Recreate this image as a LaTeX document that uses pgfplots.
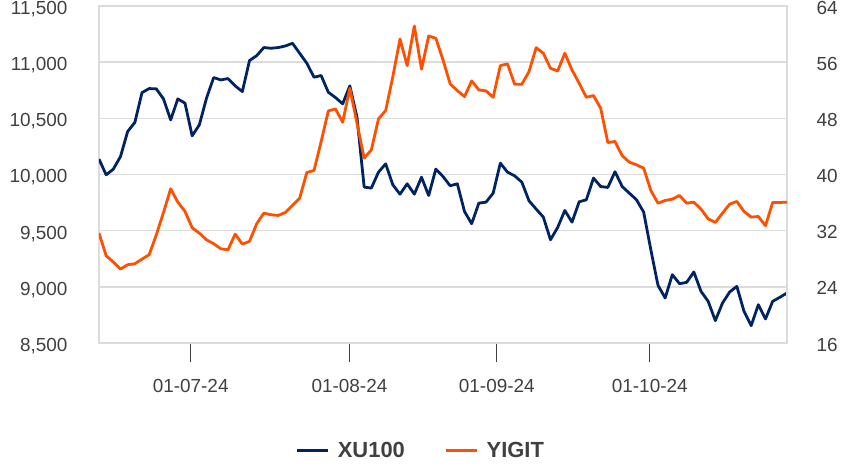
\documentclass[border=0pt]{standalone}
\usepackage{pgfplots}
\pgfplotsset{compat=1.18}
\usepackage{pgfplotstable}
\usepackage{fontspec}
\setmainfont{Liberation Sans}
\usetikzlibrary{calc}
\definecolor{navy}{RGB}{0,36,99}
\definecolor{orng}{RGB}{255,80,0}
\definecolor{gridc}{RGB}{220,220,220}
\definecolor{txt}{RGB}{64,64,64}

\pgfplotstableread{
i v
0 10137
1 9997
2 10048
3 10160
4 10383
5 10463
6 10729
7 10765
8 10762
9 10673
10 10486
11 10673
12 10635
13 10344
14 10442
15 10679
16 10863
17 10842
18 10854
19 10789
20 10738
21 11014
22 11058
23 11130
24 11124
25 11130
26 11144
27 11168
28 11079
29 10990
30 10866
31 10881
32 10732
33 10685
34 10629
35 10789
36 10510
37 9888
38 9879
39 10021
40 10095
41 9908
42 9825
43 9917
44 9825
45 9976
46 9813
47 10048
48 9982
49 9900
50 9917
51 9671
52 9562
53 9745
54 9754
55 9834
56 10101
57 10021
58 9988
59 9932
60 9766
61 9692
62 9621
63 9419
64 9529
65 9680
66 9576
67 9757
68 9775
69 9968
70 9893
71 9885
72 10025
73 9893
74 9834
75 9775
76 9665
77 9330
78 9013
79 8901
80 9108
81 9028
82 9040
83 9132
84 8960
85 8871
86 8699
87 8856
88 8954
89 9004
90 8782
91 8654
92 8841
93 8714
94 8871
95 8907
96 8945
}\xu

\pgfplotstableread{
i v
0 31.65
1 28.43
2 27.53
3 26.53
4 27.15
5 27.29
6 27.95
7 28.57
8 31.42
9 34.59
10 37.96
11 36.06
12 34.74
13 32.41
14 31.65
15 30.70
16 30.14
17 29.42
18 29.28
19 31.51
20 30.09
21 30.47
22 32.98
23 34.50
24 34.26
25 34.17
26 34.59
27 35.59
28 36.63
29 40.29
30 40.57
31 44.70
32 49.06
33 49.34
34 47.45
35 52.28
36 47.30
37 42.32
38 43.51
39 47.92
40 49.11
41 53.94
42 59.30
43 55.51
44 61.15
45 54.99
46 59.73
47 59.40
48 56.32
49 52.90
50 51.95
51 51.10
52 53.33
53 52.05
54 51.91
55 51.00
56 55.51
57 55.75
58 52.85
59 52.85
60 54.66
61 58.07
62 57.27
63 55.13
64 54.75
65 57.27
66 54.89
67 53.00
68 51.00
69 51.24
70 49.44
71 44.55
72 44.70
73 42.68
74 41.76
75 41.38
76 40.90
77 37.72
78 35.92
79 36.30
80 36.49
81 37.01
82 35.92
83 36.06
84 35.07
85 33.69
86 33.17
87 34.50
88 35.78
89 36.16
90 34.74
91 33.93
92 34.02
93 32.70
94 36.02
95 36.02
96 36.06
}\yg

\begin{document}
\begin{tikzpicture}[font=\fontsize{19}{22}\selectfont]
\pgfplotsset{
  every axis/.append style={
    scale only axis, width=688bp, height=337bp,
    xmin=0, xmax=96,
    ticklabel style={text=txt},
    ytick style={draw=none},
    axis line style={draw=gridc, line width=1.6bp},
  }
}
\begin{axis}[
  ymin=8500, ymax=11500,
  ytick={8500,9000,...,11500},
  scaled y ticks=false,
  ymajorgrids,
  grid style={draw=gridc, line width=1.6bp},
  xtick={12.79,34.95,55.51,76.85},
  xticklabels={01-07-24,01-08-24,01-09-24,01-10-24},
  xtick pos=left, ytick pos=left,
  xtick align=outside,
  major tick length=19bp,
  xtick style={draw=txt, line width=1.3bp},
  xticklabel style={yshift=-14bp},
  yticklabel style={xshift=-28bp, yshift=-3bp, /pgf/number format/fixed, /pgf/number format/1000 sep={,}},
  /pgf/number format/assume math mode=true,
]
\addplot[navy, line width=2.8bp, line join=round] table[x=i,y=v]{\xu};
\coordinate (bl) at (rel axis cs:0,0);
\coordinate (tr) at (rel axis cs:1,1);
\end{axis}
\begin{axis}[
  ymin=16, ymax=64,
  ytick={16,24,...,64},
  axis y line*=right, axis x line=none,
  yticklabel style={xshift=26bp, yshift=-1.5bp},
  /pgf/number format/assume math mode=true,
  legend columns=2,
  legend style={draw=none, fill=none, at={(rel axis cs:0.468,-0.32)}, anchor=center,
    font=\bfseries\fontsize{22}{24}\selectfont, text=txt,
    /tikz/every even column/.append style={column sep=38bp}},
  legend image code/.code={\draw[#1] (0bp,0bp) -- (31bp,0bp); \path (37bp,0bp);},
]
\addlegendimage{navy, line width=2.8bp}
\addlegendentry{XU100}
\addplot[orng, line width=2.8bp, line join=round] table[x=i,y=v]{\yg};
\addlegendentry{YIGIT}
\end{axis}
\pgfresetboundingbox
\path[use as bounding box] ($(bl)+(-99bp,-123bp)$) rectangle ($(tr)+(65bp,6bp)$);
\end{tikzpicture}
\end{document}
